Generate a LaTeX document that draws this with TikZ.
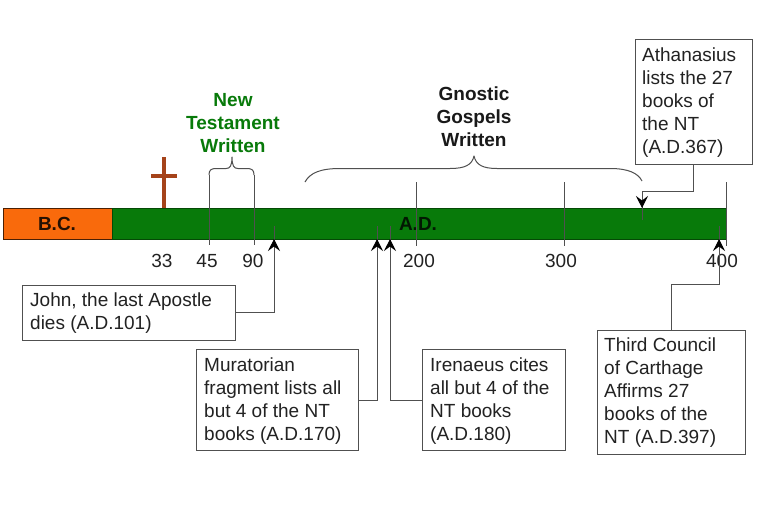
\documentclass[tikz,border=0pt]{standalone}
\usepackage{fontspec}
\setmainfont{Liberation Sans}
\usetikzlibrary{arrows.meta}
\definecolor{barorange}{HTML}{F96A0C}
\definecolor{bargreen}{HTML}{087A0A}
\definecolor{crossbrown}{HTML}{A5431A}
\definecolor{ink}{HTML}{222222}
\definecolor{wire}{HTML}{505050}
\tikzset{
  note/.style={draw=wire,line width=1.1pt,fill=white,anchor=north west,inner sep=0pt},
  notetext/.style={anchor=north west,inner sep=0pt,text=ink,font=\fontsize{19}{23}\selectfont,align=left},
  tag/.style={text=ink,font=\fontsize{19}{20}\selectfont,inner sep=0pt},
  head/.style={font=\bfseries\fontsize{19}{23}\selectfont,align=center,inner sep=0pt},
  tick/.style={draw=wire,line width=1pt},
  wireline/.style={draw=wire,line width=1pt},
  arrowline/.style={wireline,-{Stealth[length=12pt,width=12pt,inset=4.5pt,color=black]}},
  curly/.style={draw=wire,line width=1pt,line join=round},
}
\begin{document}
\begin{tikzpicture}[x=1pt,y=-1pt]
\useasboundingbox (0,0) rectangle (768,512);
\fill[white] (0,0) rectangle (768,512);
% bar
\draw[fill=barorange,draw=black!70!barorange,line width=0.8pt] (3,208) rectangle (112,239);
\draw[fill=bargreen,draw=black!40!bargreen,line width=0.8pt] (112,208) rectangle (726,239);
\node[font=\bfseries\fontsize{19}{20}\selectfont,text=black!85!barorange,inner sep=0pt] (bc) at (57,224) {B.C.};
\node[font=\bfseries\fontsize{19}{20}\selectfont,text=black!80!bargreen,inner sep=0pt] (ad) at (418,224) {A.D.};
% cross
\fill[crossbrown] (161.5,157) rectangle (165.5,208);
\fill[crossbrown] (151,173.5) rectangle (177,177.5);
% ticks
\coordinate (t45a) at (209,175); \coordinate (t45b) at (209,245);
\coordinate (t90a) at (254,175); \coordinate (t90b) at (254,245);
\coordinate (t200a) at (416,182); \coordinate (t200b) at (416,246);
\coordinate (t300a) at (564,182); \coordinate (t300b) at (564,246);
\coordinate (t400a) at (726,182); \coordinate (t400b) at (726,246);
\foreach \n in {45,90,200,300,400} \draw[tick] (t\n a) -- (t\n b);
% braces
\draw[curly] (t45a) .. controls (209,170) and (211,168.5) .. (216,168.5) -- (226,168.5)
  .. controls (230,168.5) and (232,166) .. (232,157)
  .. controls (232,166) and (234,168.5) .. (238,168.5) -- (247,168.5)
  .. controls (252,168.5) and (254,170) .. (t90a);
\coordinate (gl) at (305,182); \coordinate (gr) at (642,181);
\draw[curly] (gl) .. controls (310,173) and (320,168.5) .. (340,168.5) -- (450,168.5)
  .. controls (465,168.5) and (472,165) .. (474,156)
  .. controls (476,165) and (483,168.5) .. (497,168.5) -- (610,168.5)
  .. controls (628,168.5) and (638,173) .. (gr);
% headings
\node[head,text=bargreen] (nt) at (233,123.5) {New\\Testament\\Written};
\node[head,text=black!90] (gn) at (474,117) {Gnostic\\Gospels\\Written};
% year labels
\node[tag] (y33) at (162,261) {33};
\node[tag] (y45) at (207,261) {45};
\node[tag] (y90) at (253,261) {90};
\node[tag] (y200) at (419,261) {200};
\node[tag] (y300) at (561,261) {300};
\node[tag] (y400) at (722,261) {400};
% notes
\node[note,minimum width=213pt,minimum height=55pt] (john) at (22,284.5) {};
\node[notetext] (johnt) at (30,293) {John, the last Apostle\\dies (A.D.101)};
\node[note,minimum width=162pt,minimum height=101pt] (mura) at (196,349) {};
\node[notetext] (murat) at (204,358) {Muratorian\\fragment lists all\\but 4 of the NT\\books (A.D.170)};
\node[note,minimum width=143pt,minimum height=101pt] (iren) at (422,349) {};
\node[notetext] (irent) at (430,358) {Irenaeus cites\\all but 4 of the\\NT books\\(A.D.180)};
\node[note,minimum width=148pt,minimum height=124pt] (third) at (597,330) {};
\node[notetext] (thirdt) at (604,338) {Third Council\\of Carthage\\Affirms 27\\books of the\\NT (A.D.397)};
\node[note,minimum width=117pt,minimum height=125pt] (atha) at (635,39) {};
\node[notetext] (athat) at (642,48) {Athanasius\\lists the 27\\books of\\the NT\\(A.D.367)};
% connectors
\coordinate (a1) at (274,226); \coordinate (a2) at (377,226); \coordinate (a3) at (390,226);
\coordinate (a4) at (719,226); \coordinate (a5) at (642,220);
\draw[wireline] (a1) -- ++(0,16); \draw[wireline] (a2) -- ++(0,16);
\draw[wireline] (a3) -- ++(0,16); \draw[wireline] (a4) -- ++(0,16);
\draw[wireline] (a5) -- ++(0,-16);
\draw[arrowline] (john.east) -- (john.east -| a1) -- (274,239);
\draw[arrowline] (mura.east) -- (mura.east -| a2) -- (377,239);
\draw[arrowline] (iren.west) -- (iren.west -| a3) -- (390,239);
\draw[arrowline] (671,330) -- (671,284) -- (719,284) -- (719,239);
\draw[arrowline] (693,164) -- (693,191) -- (642,191) -- (642,208);
\end{tikzpicture}
\end{document}
